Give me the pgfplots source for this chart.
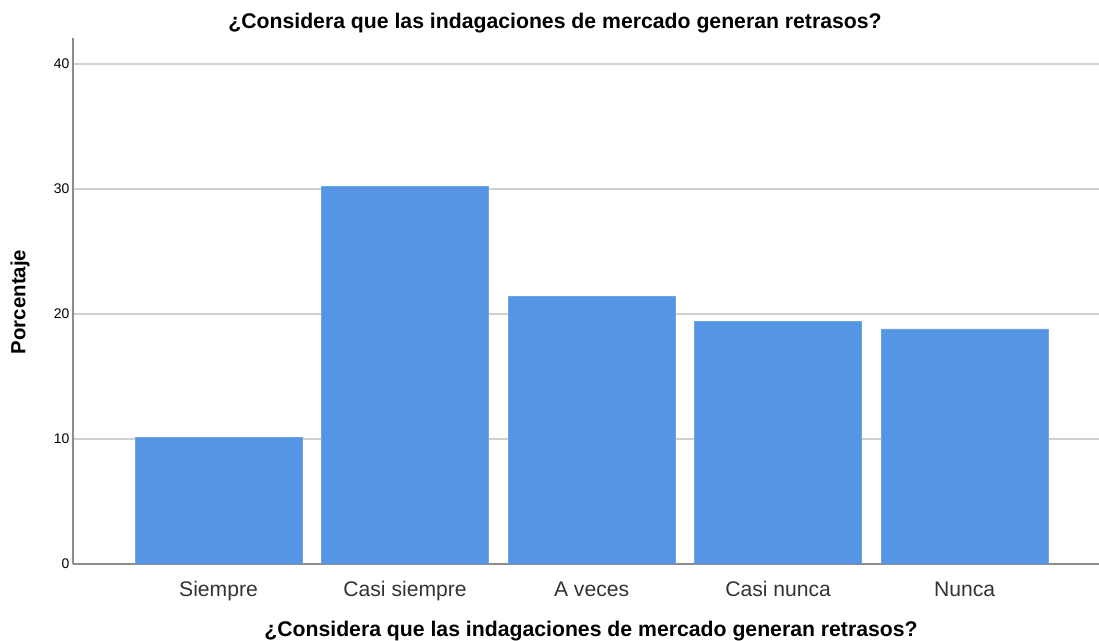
\documentclass[border=0pt]{standalone}
\usepackage{pgfplots}
\pgfplotsset{compat=1.18}
\usepackage{fontspec}
\setmainfont{Liberation Sans}
\definecolor{barblue}{HTML}{5595E3}
\definecolor{axgray}{HTML}{8C8C8C}
\definecolor{gridgray}{HTML}{D0D0D0}
\begin{document}
\begin{tikzpicture}[x=1bp,y=1bp]
\path[use as bounding box] (0,0) rectangle (1099,641);
\begin{axis}[
  at={(73bp,77bp)}, anchor=south west,
  scale only axis, width=1026bp, height=526bp,
  xmin=-0.78, xmax=4.72, ymin=0, ymax=42.08,
  axis x line*=bottom, axis y line*=left,
  axis line style={-, draw=axgray, line width=1.5bp},
  xtick={0,1,2,3,4},
  xticklabels={Siempre,Casi siempre,A veces,Casi nunca,Nunca},
  ytick={0,10,20,30,40},
  major tick length=0pt,
  ymajorgrids,
  grid style={draw=gridgray, line width=1.3bp},
  /pgf/number format/assume math mode=true,
  xticklabel style={font=\fontsize{21.2}{24}\selectfont, text=black!80, inner sep=0pt, text height=15bp, text depth=5bp, yshift=-17bp},
  yticklabel style={font=\fontsize{14}{16}\selectfont, text=black},
]
\addplot[ybar, bar width=167bp, fill=barblue, draw=barblue!85!white, line width=0.8bp]
  coordinates {(0,10.1) (1,30.2) (2,21.4) (3,19.4) (4,18.8)};
\end{axis}
\node[font=\bfseries\fontsize{21.3}{24}\selectfont] at (555,618) {¿Considera que las indagaciones de mercado generan retrasos?};
\node[font=\bfseries\fontsize{21.3}{24}\selectfont] at (591,10) {¿Considera que las indagaciones de mercado generan retrasos?};
\node[font=\bfseries\fontsize{20.5}{24}\selectfont, rotate=90] at (20,339) {Porcentaje};
\end{tikzpicture}
\end{document}
